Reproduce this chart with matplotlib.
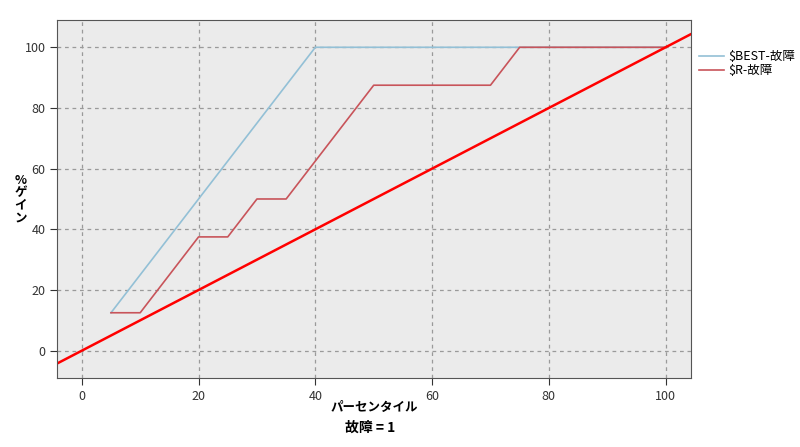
import matplotlib
matplotlib.use("Agg")
import matplotlib.pyplot as plt

plt.rcParams['font.family'] = ['Noto Sans CJK JP', 'DejaVu Sans']

best_x = [5, 40, 100]
best_y = [12.5, 100, 100]
r_x = [5, 10, 20, 25, 30, 35, 50, 70, 75, 100]
r_y = [12.5, 12.5, 37.5, 37.5, 50, 50, 87.5, 87.5, 100, 100]
ticks = [0, 20, 40, 60, 80, 100]

fig = plt.figure(figsize=(8, 4.47), dpi=100)
ax = fig.add_axes([0.0716, 0.1544, 0.7918, 0.8009])
ax.set_facecolor('#ebebeb')

ax.plot(best_x, best_y, color='#93c0d6', lw=1.2, label='$BEST-故障')
ax.plot(r_x, r_y, color='#c8545a', lw=1.2, label='$R-故障')
ax.axline((0, 0), (100, 100), color='#ff0000', lw=1.8)

ax.set_xlim(-4.2, 104.3)
ax.set_ylim(-9, 109)
ax.set_xticks(ticks)
ax.set_yticks(ticks)
ax.grid(True, ls=(0, (3, 3)), color='#9a9a9a', lw=0.9)
ax.set_axisbelow(True)
for s in ax.spines.values():
    s.set_color('#555555')
ax.tick_params(colors='#333333', labelsize=9, length=5, width=0.8)

ax.set_xlabel('パーセンタイル', fontsize=9, fontweight='bold', labelpad=-1)
fig.text(0.026, 0.555, '%\nゲ\nイ\nン', fontsize=9, fontweight='bold',
         ha='center', va='center', linespacing=0.95)
fig.text(0.4624, 0.035, '故障 = 1', ha='center', fontsize=10, fontweight='bold')

leg = ax.legend(loc='upper left', bbox_to_anchor=(1.0, 0.94), frameon=False,
                fontsize=9, handlelength=2.0, handletextpad=0.3,
                borderaxespad=0.3, labelspacing=0.1)

fig.savefig('out.png', dpi=100)
